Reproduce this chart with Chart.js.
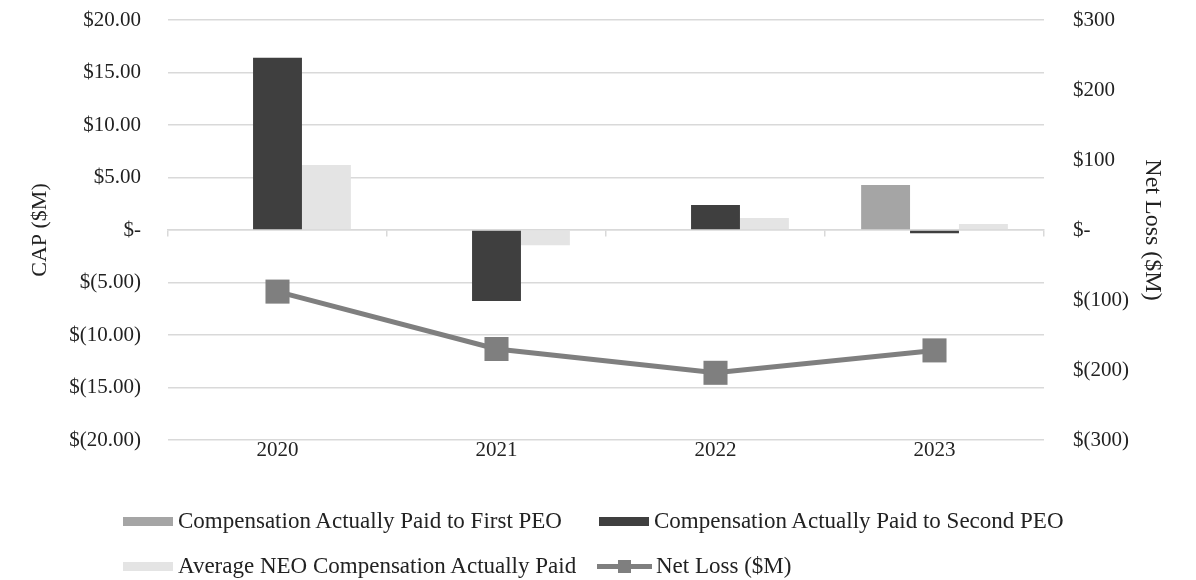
<!DOCTYPE html>
<html>
<head>
<meta charset="utf-8">
<script src="https://cdn.jsdelivr.net/npm/chart.js@4/dist/chart.umd.min.js"></script>
<style>
  html, body { margin: 0; padding: 0; background: #fff; }
  #wrap { position: relative; width: 1196px; height: 580px; }
  #c { position: absolute; left: 0; top: 0; }
  #legend { position: absolute; left: 0; top: 0; width: 1196px; height: 580px; pointer-events: none;
            font-family: "Liberation Serif", "Times New Roman", serif; font-size: 23px; color: #222; }
  .item { position: absolute; display: flex; align-items: center; white-space: nowrap; transform: translateY(-50%); }
  .sw { width: 50px; height: 9px; margin-right: 5px; }
  .ln { position: relative; width: 55px; height: 5px; margin-right: 4px; }
  .ln i { position: absolute; left: 21px; top: -4px; width: 13px; height: 13px; }
</style>
</head>
<body>
<div id="wrap">
  <canvas id="c" width="1196" height="580"></canvas>
  <div id="legend"></div>
</div>
<script>
// Fiscal years on the category axis
const years = ['2020', '2021', '2022', '2023'];

// Compensation actually paid, $M (left axis)
const firstPeoCap  = [null, null, null, 4.29];
const secondPeoCap = [16.41, -6.76, 2.38, -0.31];
const avgNeoCap    = [6.19, -1.46, 1.14, 0.57];

// Net loss, $M (right axis)
const netLoss = [-88, -170, -204, -172];

// Axis ranges and steps
const capAxis = { min: -20, max: 20, step: 5 };
const lossAxis = { min: -300, max: 300, step: 100 };

const serif = '"Liberation Serif", "Times New Roman", serif';
const textColor = '#222';
const gridColor = '#d9d9d9';

function fmtCap(v) {
  if (v === 0) return '$-';
  const s = Math.abs(v).toFixed(2);
  return v < 0 ? '$(' + s + ')' : '$' + s;
}
function fmtLoss(v) {
  if (v === 0) return '$-';
  const s = String(Math.abs(v));
  return v < 0 ? '$(' + s + ')' : '$' + s;
}

const chart = new Chart(document.getElementById('c'), {
  type: 'bar',
  data: {
    labels: years,
    datasets: [
      { label: 'Compensation Actually Paid to First PEO', data: firstPeoCap,
        backgroundColor: '#a5a5a5', yAxisID: 'y', order: 1 },
      { label: 'Compensation Actually Paid to Second PEO', data: secondPeoCap,
        backgroundColor: '#3f3f3f', yAxisID: 'y', order: 1 },
      { label: 'Average NEO Compensation Actually Paid', data: avgNeoCap,
        backgroundColor: '#e4e4e4', yAxisID: 'y', order: 1 },
      { type: 'line', label: 'Net Loss ($M)', data: netLoss, yAxisID: 'y1', order: 0,
        borderColor: '#7f7f7f', backgroundColor: '#7f7f7f', borderWidth: 5,
        pointStyle: 'rect', pointRadius: 17, pointHoverRadius: 17,
        pointBackgroundColor: '#7f7f7f', pointBorderWidth: 0, tension: 0 }
    ]
  },
  options: {
    responsive: false,
    animation: false,
    events: [],
    categoryPercentage: 0.67,
    barPercentage: 1,
    layout: { padding: { top: 20, left: 0, right: 0, bottom: 0 } },
    plugins: { legend: { display: false }, tooltip: { enabled: false } },
    scales: {
      // category axis sitting on the zero line, with tick marks between years
      x: {
        type: 'category', axis: 'x', position: { y: 0 }, offset: true,
        grid: { display: true, drawOnChartArea: false, drawTicks: true, tickLength: 6,
                offset: true, color: gridColor, lineWidth: 1.5 },
        border: { display: true, color: gridColor, width: 1.5 },
        ticks: { display: false },
        afterFit: s => { s.height = 0; }
      },
      // year labels under the plot area
      xLabels: {
        type: 'category', axis: 'x', position: 'bottom', offset: true, labels: years,
        grid: { display: false }, border: { display: false },
        ticks: { padding: -10, color: textColor, font: { family: serif, size: 21 }, maxRotation: 0 },
        afterFit: s => { s.height = 140; }
      },
      y: {
        position: 'left', min: capAxis.min, max: capAxis.max,
        ticks: { stepSize: capAxis.step, callback: fmtCap, padding: 0, color: textColor,
                 font: { family: serif, size: 21 } },
        grid: { color: gridColor, lineWidth: 1.5, drawTicks: true, tickLength: 27,
                tickColor: 'rgba(0,0,0,0)' },
        border: { display: false },
        title: { display: true, text: 'CAP ($M)', color: textColor,
                 font: { family: serif, size: 22 }, padding: { top: 27, bottom: 0 } },
        afterFit: s => { s.width = 168; }
      },
      y1: {
        position: 'right', min: lossAxis.min, max: lossAxis.max,
        ticks: { stepSize: lossAxis.step, callback: fmtLoss, padding: 0, color: textColor,
                 font: { family: serif, size: 21 } },
        grid: { drawOnChartArea: false, drawTicks: true, tickLength: 29,
                tickColor: 'rgba(0,0,0,0)' },
        border: { display: false },
        title: { display: true, text: 'Net Loss ($M)', color: textColor,
                 font: { family: serif, size: 24 }, padding: { top: 29, bottom: 0 } },
        afterFit: s => { s.width = 152; }
      }
    }
  }
});

// Two-column legend below the chart, built from the datasets
const slots = [[123, 521], [599, 521], [123, 566], [597, 566]];
const legend = document.getElementById('legend');
chart.data.datasets.forEach((ds, i) => {
  const item = document.createElement('div');
  item.className = 'item';
  item.style.left = slots[i][0] + 'px';
  item.style.top = slots[i][1] + 'px';
  const sw = document.createElement('span');
  if (ds.type === 'line') {
    sw.className = 'ln';
    sw.style.background = ds.borderColor;
    const m = document.createElement('i');
    m.style.background = ds.pointBackgroundColor;
    sw.appendChild(m);
  } else {
    sw.className = 'sw';
    sw.style.background = ds.backgroundColor;
  }
  const t = document.createElement('span');
  t.textContent = ds.label;
  item.appendChild(sw);
  item.appendChild(t);
  legend.appendChild(item);
});
</script>
</body>
</html>
